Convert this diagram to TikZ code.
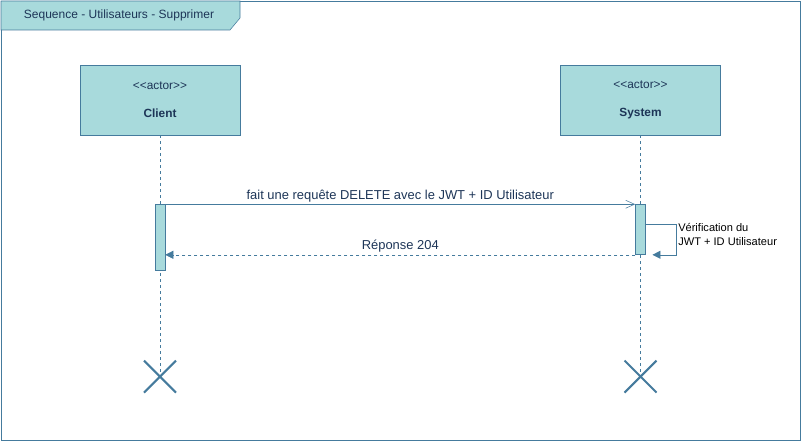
\documentclass[tikz,border=0pt]{standalone}
\usepackage{fontspec}
\setmainfont{Liberation Sans}
\usetikzlibrary{arrows.meta, positioning, calc, shapes.misc}
\definecolor{boxfill}{HTML}{A8DADC}
\definecolor{boxline}{HTML}{457B9D}
\definecolor{boxtext}{HTML}{1D3557}
\newcommand{\stereo}[1]{\mbox{<}\mbox{<}#1\mbox{>}\mbox{>}}

\begin{document}
\begin{tikzpicture}[x=0.75pt,y=-0.75pt,
    actorbox/.style={draw=boxline,fill=boxfill,rectangle,align=center,minimum width=120pt,minimum height=52.5pt,text=boxtext,font=\fontsize{8.9}{21}\selectfont},
    act/.style={draw=boxline,fill=boxfill,rectangle,minimum width=7.5pt,inner sep=0pt},
    life/.style={draw=boxline,dash pattern=on 2.25pt off 2.25pt},
    msg/.style={draw=boxline,-{Straight Barb[length=6.75pt,width=6pt]}},
    reply/.style={draw=boxline,dash pattern=on 2.25pt off 2.25pt,-{Triangle[length=6pt,width=6pt]}},
    selfmsg/.style={draw=boxline,-{Triangle[length=6pt,width=6pt]},shorten >=5pt},
    lbl/.style={text=boxtext,font=\fontsize{9.7}{11}\selectfont,inner sep=2pt},
    endmark/.style={draw=boxline,cross out,line width=1.5pt,minimum size=22.5pt,inner sep=0pt}]
    \useasboundingbox (0,0) rectangle (801,441);
    \draw[boxline] (1,1) rectangle (800,440);
    \draw[boxline,fill=boxfill] (1,1) -- (240,1) -- (240,18) -- (230,30) -- (1,30) -- cycle;
    \node (title) [lbl,font=\fontsize{9}{11}\selectfont] at (119,15) {Sequence - Utilisateurs - Supprimer};
    \node (cli) [actorbox] at (160,100) {\stereo{actor}\\\textbf{Client}};
    \node (sys) [actorbox,right=240pt of cli] {\stereo{actor}\\\textbf{System}};
    \node (clix) [endmark,below=169pt of cli] {};
    \node (sysx) [endmark,below=169pt of sys] {};
    \draw[life] (cli) -- (clix.center);
    \draw[life] (sys) -- (sysx.center);
    \node (cliact) [act,minimum height=49.5pt,below=51.75pt of cli] {};
    \node (sysact) [act,minimum height=37.5pt,below=51.75pt of sys] {};
    \draw[msg] (cliact.north east) -- (sysact.north west)
        node[lbl,midway,above,yshift=-1pt] {fait une requête DELETE avec le JWT + ID Utilisateur};
    \draw[selfmsg] ($(sysact.north east)+(0,20)$) -- ++(30,0) |- (sysact.south east);
    \node (chk) [align=left,anchor=west,inner sep=2.25pt,font=\fontsize{8.3}{10.5}\selectfont] at (675,234) {Vérification du\\JWT + ID Utilisateur};
    \draw[reply] (sysact.south west) -- (sysact.south west -| cliact.east)
        node[lbl,midway,above] {Réponse 204};
\end{tikzpicture}
\end{document}
